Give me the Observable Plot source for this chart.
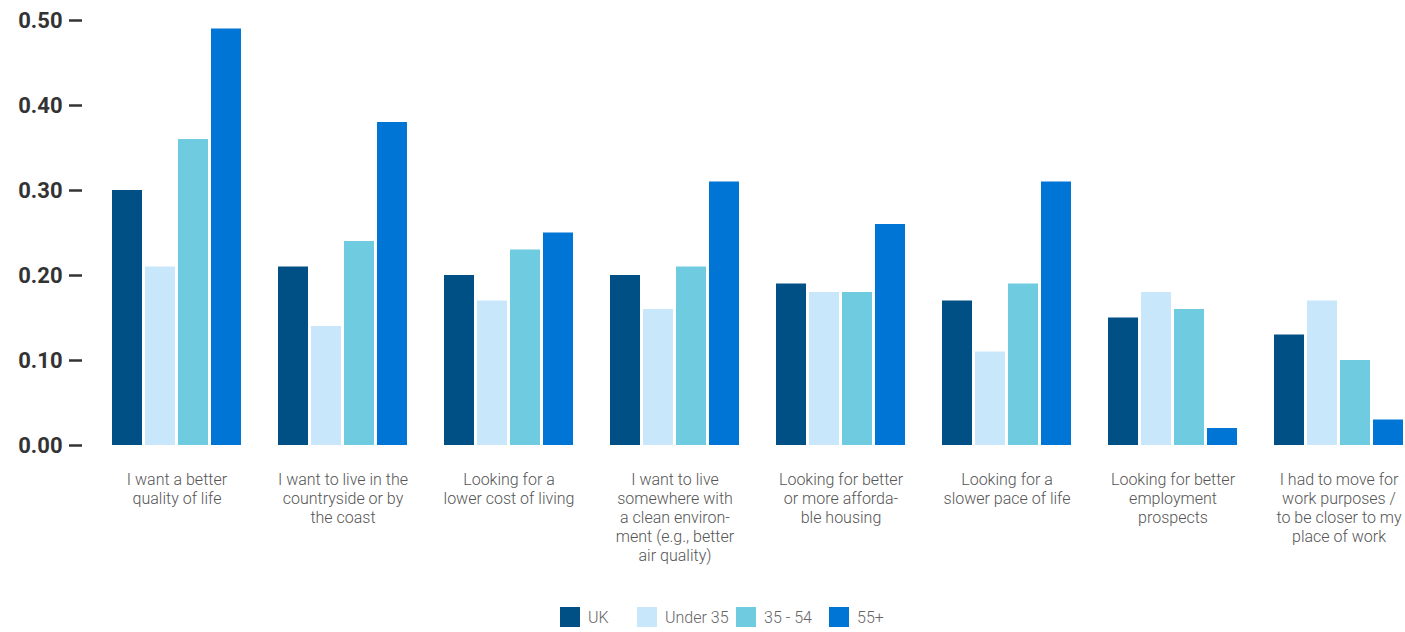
<!DOCTYPE html>
<html>
<head>
<meta charset="utf-8">
<script src="https://cdn.jsdelivr.net/npm/d3@7"></script>
<script src="https://cdn.jsdelivr.net/npm/@observablehq/plot@0.6"></script>
<style>
  body { margin: 0; background: #fff; font-family: Roboto, sans-serif; }
  #legend { display: flex; align-items: center; padding-left: 560px; padding-top: 17px; height: 20px; }
  .item { display: flex; align-items: center; font-size: 16px; font-weight: 300; color: #666; }
  .sw { width: 20px; height: 20px; margin-right: 8px; flex: none; }
</style>
</head>
<body>
<div id="chart"></div>
<div id="legend"></div>
<script>
const categories = [
  "I want a better quality of life",
  "I want to live in the countryside or by the coast",
  "Looking for a lower cost of living",
  "I want to live somewhere with a clean environment (e.g., better air quality)",
  "Looking for better or more affordable housing",
  "Looking for a slower pace of life",
  "Looking for better employment prospects",
  "I had to move for work purposes / to be closer to my place of work"
];
const categoryLabels = [
  "I want a better\nquality of life",
  "I want to live in the\ncountryside or by\nthe coast",
  "Looking for a\nlower cost of living",
  "I want to live\nsomewhere with\na clean environ-\nment (e.g., better\nair quality)",
  "Looking for better\nor more afforda-\nble housing",
  "Looking for a\nslower pace of life",
  "Looking for better\nemployment\nprospects",
  "I had to move for\nwork purposes /\nto be closer to my\nplace of work"
];
const series = ["UK", "Under 35", "35 - 54", "55+"];
const colors = ["#005086", "#c9e7fb", "#6fcbe0", "#0075d6"];
const ukValues        = [0.30, 0.21, 0.20, 0.20, 0.19, 0.17, 0.15, 0.13];
const under35Values   = [0.21, 0.14, 0.17, 0.16, 0.18, 0.11, 0.18, 0.17];
const mid35to54Values = [0.36, 0.24, 0.23, 0.21, 0.18, 0.19, 0.16, 0.10];
const over55Values    = [0.49, 0.38, 0.25, 0.31, 0.26, 0.31, 0.02, 0.03];
const yTicks = [0, 0.1, 0.2, 0.3, 0.4, 0.5];

const seriesValues = [ukValues, under35Values, mid35to54Values, over55Values];
const rows = [];
categories.forEach((c, i) => {
  series.forEach((s, j) => rows.push({category: c, series: s, value: seriesValues[j][i]}));
});

const chart = Plot.plot({
  width: 1405,
  height: 590,
  marginLeft: 112,
  marginRight: 2,
  marginTop: 20,
  marginBottom: 145,
  style: {fontFamily: "Roboto, sans-serif", background: "white"},
  fx: {domain: categories, paddingInner: 0.223, paddingOuter: 0, round: false, label: null},
  x: {domain: series, paddingInner: 0.0909, paddingOuter: 0, round: false, axis: null},
  y: {domain: [0, 0.5], label: null},
  color: {domain: series, range: colors},
  marks: [
    Plot.barY(rows, {fx: "category", x: "series", y: "value", fill: "series"}),
    Plot.axisY({
      ticks: yTicks,
      tickFormat: d3.format(".2f"),
      tickSize: 13,
      tickPadding: 7,
      dx: -30,
      color: "#333",
      strokeWidth: 2.5,
      fontSize: 22,
      fontWeight: "bold",
      label: null
    }),
    Plot.axisFx({
      anchor: "bottom",
      tickSize: 0,
      tickPadding: 26,
      tickFormat: (d) => categoryLabels[categories.indexOf(d)],
      fontSize: 16,
      fontWeight: 300,
      fill: "#555",
      lineHeight: 19 / 16,
      label: null
    })
  ]
});
document.getElementById("chart").appendChild(chart);

const legendItemWidths = [77, 99, 93, 60];
const legend = document.getElementById("legend");
series.forEach((s, j) => {
  const item = document.createElement("div");
  item.className = "item";
  item.style.width = legendItemWidths[j] + "px";
  const sw = document.createElement("div");
  sw.className = "sw";
  sw.style.background = colors[j];
  const label = document.createElement("span");
  label.textContent = s;
  item.appendChild(sw);
  item.appendChild(label);
  legend.appendChild(item);
});
</script>
</body>
</html>
